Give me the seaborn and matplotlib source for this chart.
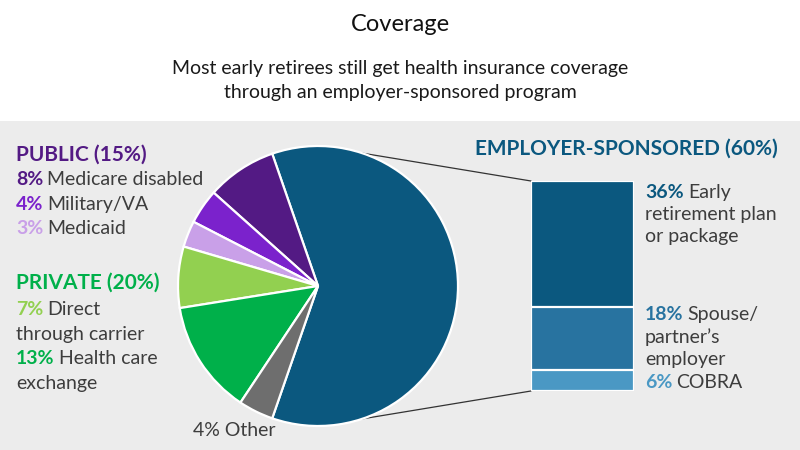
import numpy as np
import pandas as pd
import seaborn as sns
import matplotlib
matplotlib.use("Agg")
import matplotlib.pyplot as plt
from matplotlib.patches import Rectangle

# ---------------- data ----------------
pie_labels = ["Employer-sponsored", "Medicare disabled", "Military/VA", "Medicaid",
              "Direct through carrier", "Health care exchange", "Other"]
pie_values = [60, 8, 4, 3, 7, 13, 4]
pie_colors = ["#0b587f", "#531a84", "#7b22cc", "#c9a0e8", "#92d050", "#00b04a", "#6e6e6e"]

bar_labels = ["Early retirement plan or package", "Spouse/partner's employer", "COBRA"]
bar_values = [36, 18, 6]
bar_colors = ["#0b587f", "#2873a0", "#4a98c4"]

title = "Coverage"
subtitle = "Most early retirees still get health insurance coverage\nthrough an employer-sponsored program"

# ---------------- style ----------------
sns.set_theme(style="white")
plt.rcParams["font.family"] = ["Lato", "DejaVu Sans"]

W, H = 800, 450
fig = plt.figure(figsize=(8, 4.5), dpi=100, facecolor="white")
ax = fig.add_axes([0, 0, 1, 1])

BODY = "#3d3d3d"
BODY_SIZE = 14
HEAD_SIZE = 15

# grey panel
ax.add_patch(Rectangle((0, 0), W, H - 121, facecolor="#ececec", edgecolor="none", zorder=0))

# pie
cx, cy, r = 318, H - 286, 140
start = -pie_values[0] / sum(pie_values) * 180
ax.pie(pie_values, colors=pie_colors, startangle=start, center=(cx, cy), radius=r,
       counterclock=True, wedgeprops=dict(edgecolor="white", linewidth=1.6, zorder=3),
       frame=True)

# stacked bar (separate axes)
bx0, by_top, bw, bh = 531, 181, 103, 210
bax = fig.add_axes([bx0 / W, (H - by_top - bh) / H, bw / W, bh / H])
cum = np.cumsum(bar_values[::-1])[::-1]  # totals from top segment downward
for total, col in zip(cum, bar_colors):
    sns.barplot(x=["Employer-sponsored"], y=[total], color=col, saturation=1, width=1,
                edgecolor="white", linewidth=1.6, ax=bax)
bax.set_xlim(-0.5, 0.5)
bax.set_ylim(0, sum(bar_values))
bax.axis("off")

# connector lines
theta = np.arccos(44 / r)
for sgn, yb in [(1, H - by_top), (-1, H - by_top - bh)]:
    px, py = cx + r * np.cos(theta), cy + sgn * r * np.sin(theta)
    ax.plot([px, bx0], [py, yb], color="#333333", lw=0.9, zorder=2)

ax.set_xlim(0, W)
ax.set_ylim(0, H)
ax.axis("off")

# titles
ax.text(400, H - 31, title, ha="center", va="baseline", fontsize=17, fontweight="normal", color="#111111")
ax.text(400, H - 74, subtitle.split("\n")[0], ha="center", va="baseline", fontsize=14,
        fontweight="normal", color="#1a1a1a")
ax.text(400, H - 98, subtitle.split("\n")[1], ha="center", va="baseline", fontsize=14,
        fontweight="normal", color="#1a1a1a")


def two_part(x, ypix, pre, post, col, size=BODY_SIZE):
    t = ax.text(x, H - ypix, pre, ha="left", va="baseline", fontsize=size,
                fontweight="bold", color=col)
    ax.annotate(post, xy=(1, H - ypix), xycoords=(t, "data"), xytext=(3, 0),
                textcoords="offset points", ha="left", va="baseline", fontsize=size, color=BODY)


def plain(x, ypix, s, size=BODY_SIZE, col=BODY):
    ax.text(x, H - ypix, s, ha="left", va="baseline", fontsize=size, color=col)


# left labels
L = 16
ax.text(L, H - 161, "PUBLIC (15%)", ha="left", va="baseline", fontsize=HEAD_SIZE, fontweight="bold",
        color=pie_colors[1])
two_part(L, 185, f"{pie_values[1]}%", pie_labels[1], pie_colors[1])
two_part(L, 210, f"{pie_values[2]}%", pie_labels[2], pie_colors[2])
two_part(L, 234, f"{pie_values[3]}%", pie_labels[3], pie_colors[3])

ax.text(L, H - 289, "PRIVATE (20%)", ha="left", va="baseline", fontsize=HEAD_SIZE, fontweight="bold",
        color=pie_colors[5])
two_part(L, 315, f"{pie_values[4]}%", "Direct", pie_colors[4])
plain(L, 340, "through carrier")
two_part(L, 364, f"{pie_values[5]}%", "Health care", pie_colors[5])
plain(L, 389, "exchange")

ax.text(193, H - 436, f"{pie_values[6]}% Other", ha="left", va="baseline", fontsize=BODY_SIZE, color=BODY)

# right labels
ax.text(475, H - 155, "EMPLOYER-SPONSORED (60%)", ha="left", va="baseline", fontsize=HEAD_SIZE,
        fontweight="bold", color=pie_colors[0])
R = 645
two_part(R, 198, f"{bar_values[0]}%", "Early", bar_colors[0])
plain(R, 220, "retirement plan")
plain(R, 242, "or package")
two_part(R, 320, f"{bar_values[1]}%", "Spouse/", bar_colors[1])
plain(R, 343, "partner\u2019s")
plain(R, 365, "employer")
two_part(R, 388, f"{bar_values[2]}%", "COBRA", bar_colors[2])

fig.savefig("out.png", dpi=100, facecolor="white")
